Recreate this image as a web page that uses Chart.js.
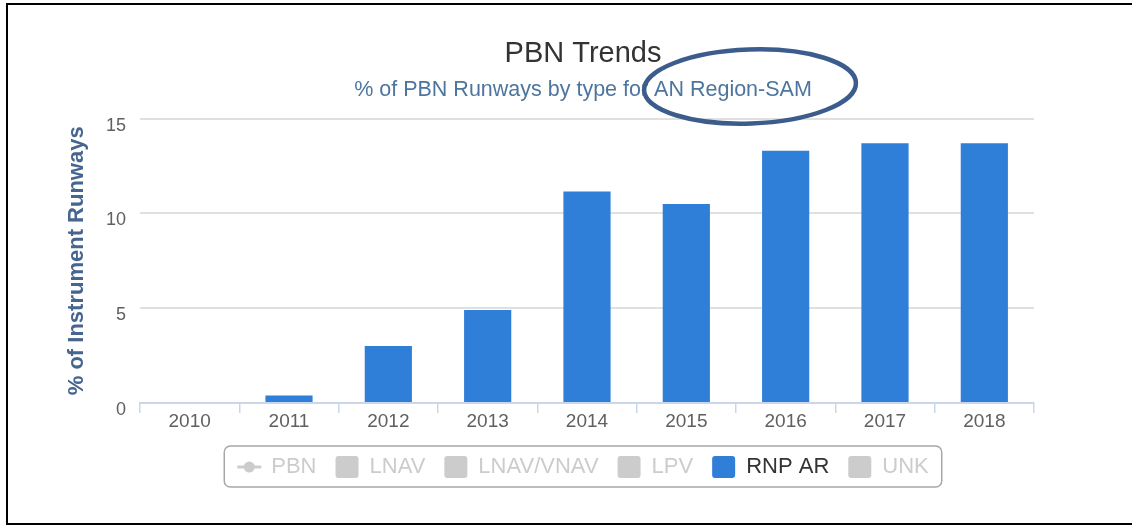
<!DOCTYPE html>
<html><head><meta charset="utf-8">
<script src="https://cdn.jsdelivr.net/npm/chart.js@4"></script>
<style>
html,body{margin:0;padding:0;background:#fff;overflow:hidden;}
#wrap{position:relative;width:1132px;height:525px;overflow:hidden;}
#frame{position:absolute;left:6px;top:3px;width:1200px;height:522px;box-sizing:border-box;border-top:2px solid #000;border-left:2px solid #000;border-bottom:2px solid #000;pointer-events:none;}
</style></head><body>
<div id="wrap"><canvas id="c" width="1132" height="525"></canvas><div id="frame"></div></div>
<script>
const categories = ['2010','2011','2012','2013','2014','2015','2016','2017','2018'];
const rnpArValues = [0, 0.4, 3.0, 4.9, 11.15, 10.5, 13.3, 13.7, 13.7];
const seriesNames = ['PBN','LNAV','LNAV/VNAV','LPV','RNP AR','UNK'];
const shownSeries = 'RNP AR';
const yTickValues = [0, 5, 10, 15];
const chartTitle = 'PBN Trends';
const chartSubtitle = '% of PBN Runways by type for AN Region-SAM';
const yAxisTitle = '% of Instrument Runways';

const FAM = "'Liberation Sans', Arial, sans-serif";
const BAR = '#2f7ed8';
const HIDDEN = '#cccccc';

const decor = {
  id: 'decor',
  afterDraw(chart) {
    const ctx = chart.ctx, lg = chart.legend;
    const hb = lg.legendHitBoxes;
    let minX = Infinity, maxX = -Infinity, cy = 0;
    hb.forEach(h => { minX = Math.min(minX, h.left); maxX = Math.max(maxX, h.left + h.width); cy = h.top + h.height / 2; });
    ctx.save();
    ctx.strokeStyle = '#a8a8a8'; ctx.lineWidth = 1.5;
    ctx.beginPath(); ctx.roundRect(minX - 13, cy - 21, maxX - minX + 26, 41, 6); ctx.stroke();
    const p = hb[0];
    ctx.strokeStyle = HIDDEN; ctx.lineWidth = 3;
    ctx.beginPath(); ctx.moveTo(p.left, cy); ctx.lineTo(p.left + 24, cy); ctx.stroke();
    ctx.fillStyle = HIDDEN; ctx.beginPath(); ctx.arc(p.left + 12, cy, 5.5, 0, Math.PI * 2); ctx.fill();
    ctx.strokeStyle = '#3b5c8c'; ctx.lineWidth = 4.5;
    ctx.beginPath(); ctx.ellipse(750, 86.5, 106, 37, -0.035, 0, Math.PI * 2); ctx.stroke();
    ctx.restore();
  }
};

new Chart(document.getElementById('c'), {
  type: 'bar',
  data: {
    labels: categories,
    datasets: [{ label: shownSeries, data: rnpArValues, backgroundColor: BAR, borderWidth: 0,
      categoryPercentage: 1, barPercentage: 0.475 }]
  },
  options: {
    responsive: false,
    animation: false,
    layout: { padding: { left: 34, right: 0, top: 0, bottom: 37 } },
    scales: {
      x: {
        grid: { display: true, drawOnChartArea: false, drawTicks: true, tickLength: 10, color: '#ccd6eb', lineWidth: 1.5, offset: true },
        border: { display: true, color: '#ccd6eb', width: 2 },
        ticks: { color: '#606060', font: { size: 19, family: FAM }, padding: -3, maxRotation: 0 },
        afterFit(s) { s.height = 34; }
      },
      y: {
        min: 0, max: 15,
        afterBuildTicks(s) { s.ticks = yTickValues.map(v => ({ value: v })); },
        grid: { color: '#e0e0e0', lineWidth: 2, drawTicks: false },
        border: { display: false },
        ticks: { color: '#606060', font: { size: 18, family: FAM }, padding: 14, labelOffset: 7 },
        title: { display: true, text: yAxisTitle, color: '#46668f', font: { size: 22, weight: 'bold', family: FAM }, padding: { top: 30, bottom: 0 } },
        afterFit(s) { s.width = 106; }
      },
      yR: {
        type: 'linear', position: 'right', display: true,
        grid: { display: false }, border: { display: false }, ticks: { display: false },
        afterFit(s) { s.width = 98; }
      }
    },
    plugins: {
      tooltip: { enabled: false },
      title: { display: true, text: chartTitle, color: '#333333', font: { size: 29, weight: 'normal', family: FAM }, padding: { top: 37, bottom: 5 } },
      subtitle: { display: true, text: chartSubtitle, color: '#4d759e', font: { size: 21.5, weight: 'normal', family: FAM }, padding: { top: 0, bottom: 16 } },
      legend: {
        position: 'bottom',
        onClick: null,
        labels: {
          boxWidth: 23, boxHeight: 22, padding: 19,
          font: { size: 22, family: FAM },
          generateLabels: () => seriesNames.map((n, i) => ({
            text: n,
            fillStyle: n === shownSeries ? BAR : (i === 0 ? 'rgba(0,0,0,0)' : HIDDEN),
            strokeStyle: 'rgba(0,0,0,0)', lineWidth: 0, hidden: false,
            fontColor: n === shownSeries ? '#333333' : HIDDEN,
            borderRadius: 3
          }))
        }
      }
    }
  },
  plugins: [decor]
});
</script>
</body></html>
